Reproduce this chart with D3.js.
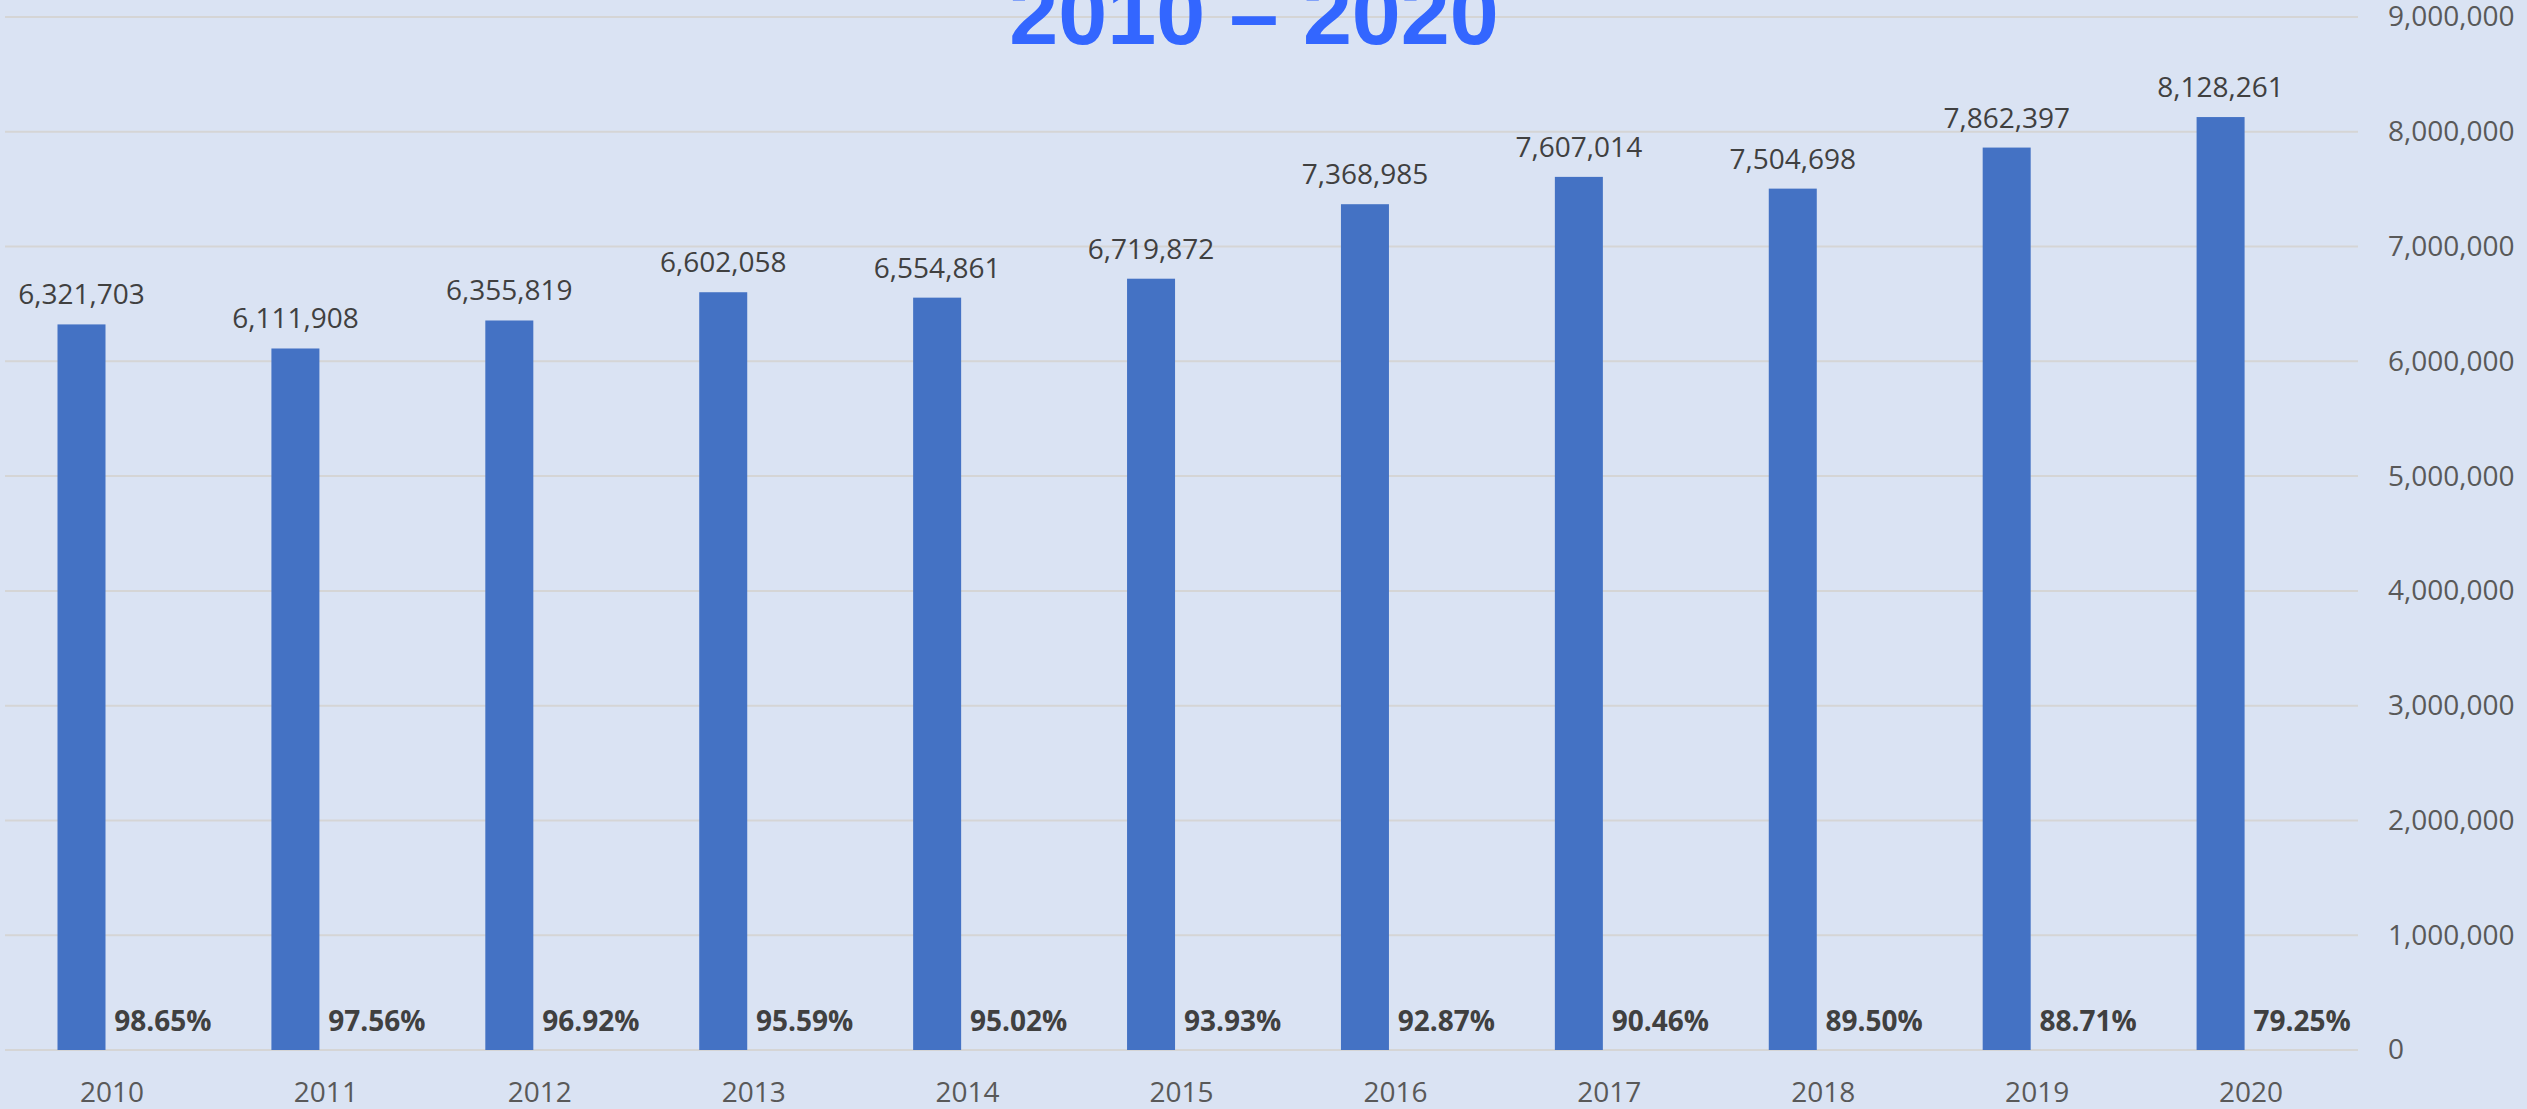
<!DOCTYPE html>
<html>
<head>
<meta charset="utf-8">
<script src="https://cdn.jsdelivr.net/npm/d3@7"></script>
<style>
  html, body { margin: 0; padding: 0; background: #DAE3F3; }
  svg { display: block; }
  .axis text { font-family: "Open Sans", sans-serif; font-size: 28px; fill: #595959; }
</style>
</head>
<body>
<div id="chart"></div>
<script>
const years = ['2010', '2011', '2012', '2013', '2014', '2015', '2016', '2017', '2018', '2019', '2020'];
const counts = [6321703, 6111908, 6355819, 6602058, 6554861, 6719872, 7368985, 7607014, 7504698, 7862397, 8128261];
const shares = [98.65, 97.56, 96.92, 95.59, 95.02, 93.93, 92.87, 90.46, 89.50, 88.71, 79.25];
const yTicks = [0, 1000000, 2000000, 3000000, 4000000, 5000000, 6000000, 7000000, 8000000, 9000000];
const titleText = '2010 – 2020';

const width = 2527;
const height = 1109;

const svg = d3.select('#chart')
  .append('svg')
  .attr('width', width)
  .attr('height', height);

svg.append('rect')
  .attr('width', width)
  .attr('height', height)
  .attr('fill', '#DAE3F3');

let x = d3.scaleBand()
  .domain(years)
  .range([5, 2358])
  .padding(0);

let y = d3.scaleLinear()
  .domain([0, 9000000])
  .range([1050, 17]);

const bw = x.bandwidth();

// gridlines
svg.append('g')
  .selectAll('line')
  .data(yTicks)
  .enter()
  .append('line')
  .attr('x1', 5)
  .attr('x2', 2358)
  .attr('y1', d => y(d))
  .attr('y2', d => y(d))
  .attr('stroke', '#D5D5D5')
  .attr('stroke-width', 2);

// title (cut off at the top, like the source)
svg.append('text')
  .attr('x', 1254)
  .attr('y', 44)
  .attr('text-anchor', 'middle')
  .attr('font-family', '"Liberation Sans", Arial, sans-serif')
  .attr('font-weight', 'bold')
  .attr('font-size', 88)
  .attr('fill', '#3366FF')
  .text(titleText);

const data = years.map((d, i) => ({ year: d, count: counts[i], share: shares[i] }));

const barOffset = 52.5;
const barWidth = 48;

svg.append('g')
  .selectAll('rect')
  .data(data)
  .enter()
  .append('rect')
  .attr('x', d => x(d.year) + barOffset)
  .attr('width', barWidth)
  .attr('y', d => y(d.count))
  .attr('height', d => y(0) - y(d.count))
  .attr('fill', '#4472C4');

// value labels
svg.append('g')
  .selectAll('text')
  .data(data)
  .enter()
  .append('text')
  .attr('x', d => x(d.year) + barOffset + barWidth / 2)
  .attr('y', d => y(d.count) - 20)
  .attr('text-anchor', 'middle')
  .attr('font-family', '"Open Sans", sans-serif')
  .attr('font-size', 28)
  .attr('fill', '#404040')
  .text(d => d3.format(',')(d.count));

// percent labels
svg.append('g')
  .selectAll('text')
  .data(data)
  .enter()
  .append('text')
  .attr('x', d => x(d.year) + bw / 2 + 51)
  .attr('y', 1031)
  .attr('text-anchor', 'middle')
  .attr('font-family', '"Open Sans", sans-serif')
  .attr('font-weight', 'bold')
  .attr('font-size', 28)
  .attr('fill', '#404040')
  .text(d => d.share.toFixed(2) + '%');

// right axis
const yAxis = svg.append('g')
  .attr('class', 'axis')
  .attr('transform', 'translate(2358,0)')
  .call(d3.axisRight(y).tickValues(yTicks).tickSize(0).tickPadding(30).tickFormat(d3.format(',')));
yAxis.select('.domain').remove();

// bottom axis
const xAxis = svg.append('g')
  .attr('class', 'axis')
  .attr('transform', 'translate(0,1050)')
  .call(d3.axisBottom(x).tickSize(0).tickPadding(32));
xAxis.select('.domain').remove();
</script>
</body>
</html>
